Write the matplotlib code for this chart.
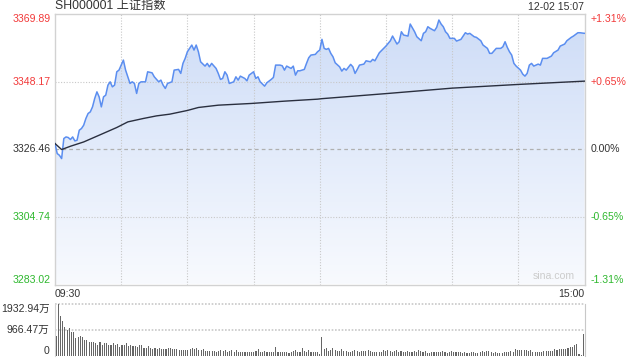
import numpy as np
import matplotlib.pyplot as plt
from matplotlib.colors import LinearSegmentedColormap

FONT = ['Liberation Sans', 'Noto Sans CJK SC', 'DejaVu Sans']
plt.rcParams['font.family'] = FONT

title = 'SH000001 上证指数'
stamp = '12-02 15:07'
pre_close = 3326.46
y_ticks = [3369.89, 3348.17, 3326.46, 3304.74, 3283.02]
pct_labels = ['+1.31%', '+0.65%', '0.00%', '-0.65%', '-1.31%']
vol_max = 1932.94

# minute index (0 = 09:30, 240 = 15:00) and price
price_min = [0, 1, 2, 3, 4, 5, 6, 7, 8, 9, 10, 11, 12, 13, 14, 15, 16, 17, 18, 19,
             20, 21, 22, 23, 24, 25, 26, 27, 28, 29, 31, 32, 33, 34, 35, 36, 37, 38, 39, 41,
             42, 44, 45, 47, 48, 49, 50, 51, 53, 54, 56, 57, 58, 59, 60, 62, 63, 64, 65, 66,
             68, 69, 70, 71, 73, 74, 75, 76, 77, 78, 79, 81, 82, 83, 84, 86, 87, 88, 90, 91,
             92, 93, 95, 96, 98, 99, 100, 102, 103, 104, 105, 107, 108, 109, 110, 111, 113, 114, 115, 116,
             118, 119, 120, 121, 122, 123, 124, 125, 126, 127, 129, 130, 131, 132, 134, 135, 136, 137, 138, 140,
             141, 143, 144, 145, 146, 147, 149, 150, 152, 153, 155, 156, 157, 158, 160, 161, 163, 164, 166, 167,
             168, 169, 170, 172, 173, 174, 175, 176, 177, 178, 179, 181, 182, 184, 186, 187, 188, 190, 191, 193,
             194, 196, 197, 198, 200, 202, 203, 204, 205, 206, 207, 208, 209, 211, 212, 213, 214, 215, 216, 217,
             218, 219, 220, 221, 223, 225, 226, 228, 229, 231, 232, 234, 235, 237, 238, 240]
price = [3328.29, 3325.07, 3324.52, 3323.46, 3329.90, 3330.41, 3330.22, 3329.58, 3330.41, 3329.13,
         3329.35, 3332.57, 3333.12, 3334.18, 3336.33, 3337.94, 3338.46, 3340.06, 3342.77, 3344.89,
         3343.28, 3340.06, 3343.28, 3343.83, 3347.05, 3348.11, 3346.50, 3347.05, 3351.33, 3351.87,
         3355.09, 3351.87, 3349.72, 3347.59, 3348.11, 3347.59, 3344.38, 3347.59, 3348.11, 3348.11,
         3351.33, 3351.00, 3349.72, 3348.11, 3348.66, 3347.05, 3345.98, 3347.59, 3348.11, 3351.87,
         3352.10, 3350.81, 3354.03, 3355.64, 3357.76, 3359.92, 3358.31, 3359.92, 3357.76, 3354.54,
         3353.16, 3354.03, 3352.93, 3354.03, 3352.42, 3350.81, 3348.88, 3349.20, 3351.33, 3350.26,
         3347.59, 3348.11, 3349.72, 3348.66, 3349.94, 3349.20, 3348.43, 3350.26, 3351.33, 3349.20,
         3349.72, 3348.11, 3346.72, 3347.79, 3348.88, 3349.52, 3353.48, 3353.48, 3353.26, 3351.87,
         3353.16, 3352.42, 3353.16, 3350.26, 3351.65, 3351.65, 3352.10, 3354.03, 3355.83, 3356.70,
         3356.92, 3357.76, 3358.31, 3361.75, 3358.85, 3358.53, 3358.85, 3357.25, 3356.15, 3354.22,
         3352.93, 3351.55, 3352.42, 3351.87, 3353.71, 3352.93, 3350.81, 3352.10, 3353.48, 3353.80,
         3354.86, 3354.54, 3355.32, 3354.86, 3356.15, 3357.44, 3358.85, 3359.59, 3361.30, 3362.81,
         3360.24, 3360.98, 3364.19, 3363.13, 3362.81, 3366.67, 3364.19, 3362.59, 3361.30, 3363.68,
         3364.19, 3365.80, 3365.29, 3364.52, 3365.61, 3367.96, 3366.67, 3365.80, 3364.19, 3363.45,
         3362.07, 3362.07, 3361.20, 3361.75, 3363.87, 3363.45, 3363.68, 3362.59, 3362.39, 3361.30,
         3359.92, 3358.85, 3357.25, 3357.25, 3358.85, 3358.85, 3359.37, 3360.98, 3359.18, 3357.76,
         3356.70, 3354.03, 3353.16, 3351.87, 3350.59, 3349.94, 3350.81, 3353.48, 3354.03, 3353.16,
         3353.48, 3353.80, 3353.48, 3355.64, 3355.64, 3356.38, 3357.44, 3358.31, 3359.59, 3360.24,
         3361.30, 3362.39, 3362.81, 3363.87, 3363.87, 3363.68]

avg_min = [0, 3, 7, 13, 20, 28, 33, 40, 46, 52, 60, 65, 74, 89, 104, 119, 121, 151, 180, 210, 240]
avg_price = [3328.29, 3326.36, 3327.42, 3328.80, 3330.96, 3333.44, 3335.24, 3336.33, 3337.17, 3337.72,
             3338.91, 3339.87, 3340.61, 3341.16, 3341.90, 3342.54, 3342.70, 3344.38, 3346.08, 3347.27,
             3348.33]

# volume per minute, in 万
volume = [755, 1932, 1500, 1315, 1080, 950, 1055, 885, 885, 665, 715, 755, 690, 585, 585, 520, 520, 495, 480, 405,
          520, 405, 480, 455, 405, 405, 455, 380, 440, 325, 380, 415, 455, 340, 380, 365, 340, 325, 405, 380,
          285, 285, 365, 300, 260, 285, 260, 285, 245, 245, 260, 285, 285, 260, 245, 235, 220, 220, 220, 220,
          210, 245, 285, 260, 285, 210, 210, 245, 170, 170, 170, 170, 170, 145, 180, 210, 170, 210, 145, 170,
          210, 145, 210, 145, 130, 130, 130, 130, 130, 130, 130, 170, 235, 130, 130, 170, 145, 130, 130, 130,
          325, 130, 130, 130, 130, 130, 105, 145, 170, 210, 145, 130, 285, 170, 145, 210, 130, 130, 130, 130,
          40,
          690, 260, 300, 170, 210, 285, 210, 170, 170, 245, 170, 170, 130, 130, 170, 210, 170, 130, 170, 170,
          170, 210, 170, 130, 130, 130, 130, 130, 210, 170, 210, 170, 130, 170, 210, 130, 170, 130, 130, 170,
          130, 130, 170, 130, 210, 170, 130, 170, 105, 105, 130, 130, 130, 130, 130, 170, 130, 105, 130, 170,
          130, 130, 130, 130, 105, 130, 105, 105, 130, 130, 105, 105, 130, 170, 130, 170, 170, 130, 105, 130,
          105, 105, 105, 130, 130, 130, 170, 130, 235, 210, 210, 210, 210, 210, 170, 210, 130, 130, 130, 130,
          130, 170, 170, 170, 170, 170, 235, 210, 235, 235, 235, 235, 275, 315, 315, 390, 445, 40, 15, 795]

RED = '#f23a3a'
GREEN = '#2eb82e'
DARK = '#333333'
text_colors = [RED, RED, DARK, GREEN, GREEN]

W, H = 640, 360
fig = plt.figure(figsize=(6.4, 3.6), dpi=100)
fig.patch.set_facecolor('white')

# main price panel
ax = fig.add_axes([55 / W, 1 - 284.5 / H, 529.5 / W, 270.5 / H])
ax.set_xlim(0, 240)
ax.set_ylim(y_ticks[-1], y_ticks[0])

grad = np.linspace(1, 0, 256).reshape(-1, 1)
cmap = LinearSegmentedColormap.from_list('fill', ['#f8fafe', '#cddcf7'])
img = ax.imshow(grad, cmap=cmap, aspect='auto', extent=[0, 240, y_ticks[-1], y_ticks[0]],
                origin='upper', zorder=1)
poly = ax.fill_between(price_min, price, y_ticks[-1], facecolor='none', edgecolor='none')
img.set_clip_path(poly.get_paths()[0], transform=ax.transData)

for t in [30, 60, 90, 120, 150, 180, 210]:
    ax.axvline(t, color='#c8c8c8', lw=0.8, ls=(0, (1, 1.5)), zorder=2)
for v in [y_ticks[1], y_ticks[3]]:
    ax.axhline(v, color='#c8c8c8', lw=0.8, ls=(0, (1, 1.5)), zorder=2)
ax.axhline(pre_close, color='#b0b0b0', lw=0.9, ls=(0, (3, 2.5)), zorder=2)

ax.plot(price_min, price, color='#5b8ef0', lw=1.1, zorder=4)
ax.plot(avg_min, avg_price, color='#2a2f3f', lw=1.0, zorder=5)

ax.set_xticks([])
ax.set_yticks([])
for s in ax.spines.values():
    s.set_color('#d2d2d2')
    s.set_linewidth(1.0)

# y labels on both sides
vas = ['top', 'center', 'center', 'center', 'bottom']
for v, pl, c, va in zip(y_ticks, pct_labels, text_colors, vas):
    ax.text(-0.008, v, f'{v:.2f}', transform=ax.get_yaxis_transform(), ha='right', va=va,
            color=c, fontsize=7.6)
    ax.text(1.012, v, pl, transform=ax.get_yaxis_transform(), ha='left', va=va,
            color=c, fontsize=7.6)

ax.text(0.0, 1.008, title, transform=ax.transAxes, ha='left', va='bottom', color=DARK, fontsize=8.8)
ax.text(1.0, 1.008, stamp, transform=ax.transAxes, ha='right', va='bottom', color=DARK, fontsize=7.6)
ax.text(0.0, -0.015, '09:30', transform=ax.transAxes, ha='left', va='top', color=DARK, fontsize=7.6)
ax.text(1.0, -0.015, '15:00', transform=ax.transAxes, ha='right', va='top', color=DARK, fontsize=7.6)
ax.text(0.982, 0.012, 'sina.com', transform=ax.transAxes, ha='right', va='bottom',
        color='#cccccc', fontsize=7.6)

# volume panel
vx = fig.add_axes([55 / W, 1 - 355.5 / H, 529.5 / W, 51.2 / H])
vx.set_xlim(-0.5, 240.5)
vx.set_ylim(0, vol_max)
vx.bar(np.arange(len(volume)), volume, width=0.5, color='#666666', zorder=3)
for v in [vol_max, vol_max / 2]:
    vx.axhline(v, color='#c8c8c8', lw=1.2, ls=(0, (1, 1)), zorder=2, clip_on=False)
vx.set_xticks([])
vx.set_yticks([])
vx.spines['top'].set_visible(False)
vx.spines['bottom'].set_visible(False)
vx.spines['left'].set_color('#d2d2d2')
vx.spines['right'].set_color('#c8c8c8')

vol_labels = ['1932.94万', '966.47万', '0']
for v, lab, va in zip([vol_max, vol_max / 2, 0], vol_labels, ['top', 'center', 'bottom']):
    vx.text(-0.01, v, lab, transform=vx.get_yaxis_transform(), ha='right', va=va,
            color=DARK, fontsize=7.6)

fig.savefig('out.png', dpi=100)
